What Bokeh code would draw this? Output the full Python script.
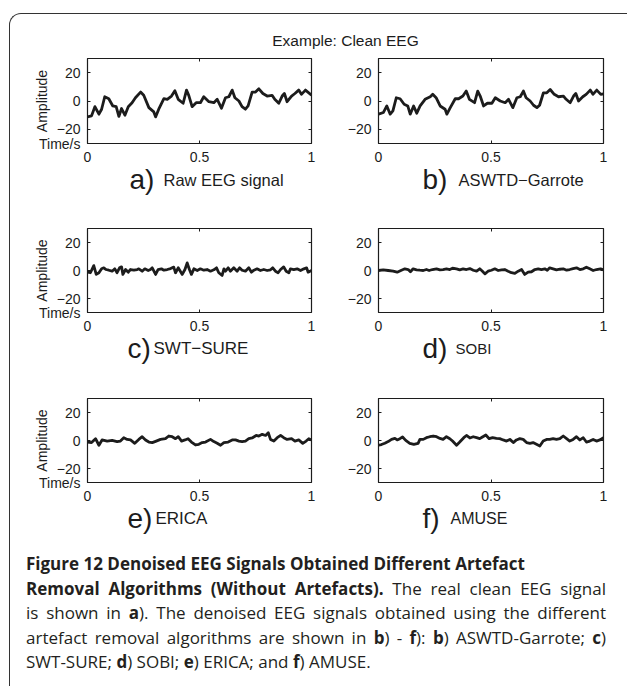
from bokeh.plotting import figure
from bokeh.models import Range1d, LinearAxis, FixedTicker, Label, Div
from bokeh.layouts import column, row
from bokeh.embed import file_html
from bokeh.resources import INLINE

FONT = "Liberation Sans"
INK = "#1c1c1c"

title_text = "Example: Clean EEG"
x_ticks = [0, 0.5, 1]
y_ticks = [-20, 0, 20]
y_tick_labels = {-20: "\u221220", 0: "0", 20: "20"}
y_label = "Amplitude"
x_label = "Time/s"
panel_letters = ["a)", "b)", "c)", "d)", "e)", "f)"]
panel_names = ["Raw EEG signal", "ASWTD\u2212Garrote", "SWT\u2212SURE", "SOBI", "ERICA", "AMUSE"]

# a) Raw EEG signal
t_a = [0, .018, .033, .051, .063, .077, .095, .113, .128, .140, .152, .167, .182, .199, .214, .237,
       .251, .274, .296, .304, .318, .341, .356, .375, .390, .405, .427, .442, .452, .467, .485, .504,
       .519, .542, .564, .579, .598, .616, .631, .646, .658, .676, .690, .705, .717, .735, .750, .765,
       .783, .802, .824, .836, .854, .869, .879, .891, .911, .926, .943, .955, .973, 1.0]
v_a = [-11.2, -10.5, -4.0, -9.3, -5.8, 3.0, 1.6, -3.5, -4.0, -10.9, -5.3, -10.0, -4.0, -1.2, 2.3, 6.3,
       4.0, -4.7, -7.7, -11.2, -5.8, 1.6, 1.2, 3.5, 7.2, 1.2, -1.6, 7.7, 4.0, -4.0, -1.2, -1.2,
       3.0, -0.5, -1.2, 1.2, -5.1, 2.3, 3.0, 7.7, 2.3, 0, -4.0, -5.8, -3.5, 6.3, 6.3, 8.6,
       5.3, 3.5, 4.0, 1.2, -1.6, 3.5, 5.3, -0.5, 3.5, 5.3, 7.7, 4.7, 7.7, 4.2]

# b) ASWTD-Garrote
t_b = [0, .022, .037, .052, .064, .079, .096, .114, .130, .141, .156, .170, .185, .207, .230, .241,
       .256, .274, .296, .304, .319, .341, .356, .375, .390, .404, .427, .441, .452, .467, .484, .504,
       .519, .541, .563, .578, .597, .615, .630, .644, .656, .674, .689, .704, .716, .733, .748, .763,
       .781, .800, .822, .834, .852, .867, .877, .889, .908, .923, .941, .953, .970, .988, 1.0]
v_b = [-9.3, -8.1, -3.5, -9.3, -7.0, 2.3, 1.6, -2.3, -3.5, -9.3, -3.5, -8.6, -3.5, 1.2, 3.0, 4.7,
       2.3, -3.5, -5.8, -9.3, -4.7, 1.6, 1.6, 3.5, 7.0, 1.2, -1.2, 7.0, 3.5, -3.5, -1.6, -1.6,
       2.3, 0, -1.2, 1.2, -4.7, 2.3, 3.0, 7.0, 2.3, 0, -3.0, -4.7, -3.0, 5.8, 5.8, 8.1,
       4.7, 3.0, 3.5, 1.2, -1.2, 3.5, 5.3, 0, 3.0, 4.7, 7.7, 4.7, 7.7, 4.7, 5.1]

# c) SWT-SURE
t_c = [0, .013, .028, .039, .051, .063, .073, .083, .095, .110, .122, .132, .143, .152, .158, .170,
       .182, .192, .207, .222, .229, .244, .256, .271, .281, .289, .304, .315, .330, .341, .356, .371,
       .385, .393, .405, .423, .435, .445, .455, .464, .475, .490, .504, .519, .534, .549, .564, .576,
       .586, .601, .609, .616, .628, .638, .653, .668, .679, .690, .705, .720, .732, .743, .757, .772,
       .787, .802, .817, .827, .839, .851, .862, .876, .887, .899, .906, .921, .936, .951, .966, .978,
       .985, 1.0]
v_c = [-1.2, -1.6, 3.5, -2.8, -1.6, 1.2, 1.9, 0.7, 0.2, -0.5, 1.2, -1.6, 1.9, 2.6, -2.8, 0.7,
       -1.2, 0.7, 0.2, 0.7, 1.2, -0.5, 1.2, 0, 0.7, 1.9, -2.8, 0.7, 1.2, 0.2, 0.7, 1.4,
       2.4, -1.6, 1.9, -2.8, 0.7, 5.4, 0.7, -2.8, 1.2, 0, 1.2, 0.2, 0.7, -0.5, 0.5, 1.9,
       -1.6, -3.5, 1.2, -0.5, 1.9, -0.5, 1.9, -0.5, 1.9, 0.2, -0.5, 1.9, -1.2, 0.2, 1.2, 0,
       0.7, 0, 0.5, 1.9, -0.5, -1.6, 0.7, 2.6, -0.5, -1.6, 1.2, 0.7, 1.2, 0, 1.2, 1.9,
       -1.2, 0]

# d) SOBI
t_d = [0, .021, .043, .065, .083, .102, .117, .132, .142, .154, .169, .184, .199, .213, .225, .240,
       .258, .273, .287, .302, .317, .329, .347, .361, .376, .391, .406, .421, .436, .450, .462, .473,
       .487, .502, .517, .532, .547, .561, .576, .591, .606, .621, .636, .650, .665, .680, .695, .710,
       .724, .739, .750, .761, .776, .791, .806, .821, .836, .850, .865, .880, .895, .910, .924, .939,
       .954, .969, .987, 1.0]
v_d = [0, .5, 0, -.5, -1.2, .2, 1.2, .7, -.9, 1.2, .5, .2, 0, .7, 0, .7,
       1.2, .5, .7, 1.2, .7, 1.6, 1.2, .5, 1.2, .7, 1.4, .2, -.5, 1.2, -.5, -2.4,
       -.5, .2, 1.2, 0, .5, .7, -.5, -1.6, -2.1, -.5, .7, -2.8, -1.2, -.9, .7, 1.2,
       .7, 1.2, .2, 1.9, 1.2, .5, .9, 1.2, .2, .7, 1.4, 1.9, .7, 1.2, 2.4, 1.2,
       0, .7, 1.2, .5]

# e) ERICA
t_e = [0, .018, .036, .051, .065, .088, .110, .132, .147, .162, .177, .192, .211, .229, .244, .259,
       .274, .289, .304, .326, .348, .363, .378, .393, .405, .420, .435, .449, .464, .482, .497, .512,
       .527, .549, .564, .579, .594, .609, .628, .646, .661, .676, .690, .705, .720, .735, .753, .765,
       .780, .795, .807, .817, .832, .847, .862, .876, .891, .911, .926, .943, .961, .976, .988, 1.0]
v_e = [-1.1, -1.5, 1.3, -3.4, .4, -.4, .1, -.8, -.4, 2.0, .8, .4, -2.0, .8, 2.7, .4,
       -1.1, -1.5, -.6, .8, 1.3, 3.2, 2.7, 1.3, 2.7, -.4, .4, 1.3, -1.1, -3.2, -2.7, -1.5,
       -1.1, .8, -.8, -2.0, -3.4, -1.5, -1.1, .4, .4, -.4, -.8, -.4, 1.3, 1.8, 3.6, 3.2,
       4.4, 3.6, 5.5, .8, -.4, 2.0, 3.6, 2.0, .8, 1.3, -.4, .4, -2.0, -.4, 1.3, .4]

# f) AMUSE
t_f = [0, .013, .028, .043, .058, .073, .083, .095, .107, .121, .139, .157, .176, .184, .199, .213,
       .228, .243, .258, .273, .287, .302, .317, .329, .347, .361, .379, .391, .406, .421, .436, .450,
       .462, .477, .492, .507, .524, .539, .554, .569, .584, .599, .613, .628, .643, .658, .673, .687,
       .702, .717, .732, .747, .761, .776, .791, .806, .821, .836, .850, .865, .880, .895, .910, .924,
       .939, .954, .969, .984, 1.0]
v_f = [-3.4, -2.9, -2.0, -.8, .8, 1.5, .4, 1.3, 2.5, .1, -2.0, -2.7, -2.0, .8, .8, 2.0,
       2.7, 3.2, 2.7, 1.5, .8, 2.7, 1.3, -.4, -3.4, -1.1, 2.0, 3.6, 1.8, 2.7, 2.0, 1.3,
       2.5, 3.9, 1.3, 2.0, 1.5, 1.3, .4, -.4, .8, -1.5, .4, 1.3, .8, -1.5, -2.0, -1.5,
       -2.7, -3.9, -.4, .8, .8, 1.3, .8, 1.3, 3.2, 1.3, -.4, .8, 2.7, .4, 2.0, -1.1,
       -.4, .8, -.4, .4, 2.0]

series_t = [t_a, t_b, t_c, t_d, t_e, t_f]
series_v = [v_a, v_b, v_c, v_d, v_e, v_f]

# layout (pixels)
LEFT_W, RIGHT_W = 310, 307
name_sizes = ["16.5px", "16.5px", "17px", "15px", "17px", "16px"]
letter_x = [119, 102, 117, 102, 117, 102]
name_x = [153, 138, 143, 135, 145, 130]


def style_axis(ax, ticks, show_labels):
    ax.ticker = FixedTicker(ticks=ticks)
    ax.major_tick_in = 3
    ax.major_tick_out = 0
    ax.minor_tick_in = 0
    ax.minor_tick_out = 0
    ax.major_tick_line_color = INK
    ax.major_tick_line_width = 1
    ax.axis_line_color = None
    ax.major_label_text_font = FONT
    ax.major_label_text_font_size = "14px"
    ax.major_label_text_color = INK
    if not show_labels:
        ax.major_label_overrides = {tk: "" for tk in ticks}
        ax.major_label_standoff = 0


def panel(i):
    col = i % 2
    rw = i // 2
    left = col == 0
    p = figure(width=LEFT_W if left else RIGHT_W, height=110 if rw == 0 else 133,
               x_range=Range1d(0, 1), y_range=Range1d(-30, 30),
               output_backend="svg", toolbar_location=None,
               min_border_left=77 if left else 58,
               min_border_right=9 if left else 24,
               min_border_top=4 if rw == 0 else 28,
               min_border_bottom=20)
    p.grid.visible = False
    p.border_fill_color = None
    p.outline_line_color = INK
    p.outline_line_width = 1.2
    p.line(series_t[i], series_v[i], line_color=INK, line_width=2.8, line_join="round")

    xa = p.xaxis[0]
    style_axis(xa, x_ticks, True)
    xa.major_label_standoff = 8
    ya = p.yaxis[0]
    ya.major_label_standoff = 7
    if left:
        # the time caption sits at the lower-left corner, drawn as the label of the bottom edge
        style_axis(ya, [-30] + y_ticks, True)
        ya.major_label_overrides = {**y_tick_labels, -30: x_label}
        ya.axis_label = y_label
        ya.axis_label_text_font = FONT
        ya.axis_label_text_font_size = "14px"
        ya.axis_label_text_font_style = "normal"
        ya.axis_label_text_color = INK
        ya.axis_label_standoff = -14
    else:
        style_axis(ya, y_ticks, True)
        ya.major_label_overrides = y_tick_labels

    top = LinearAxis()
    style_axis(top, x_ticks, False)
    p.add_layout(top, "above")
    right = LinearAxis()
    style_axis(right, y_ticks, False)
    p.add_layout(right, "right")
    return p


def text_strip(width, height):
    f = figure(width=width, height=height, x_range=Range1d(0, width), y_range=Range1d(0, height),
               output_backend="svg", toolbar_location=None,
               x_axis_location=None, y_axis_location=None, min_border=0)
    f.grid.visible = False
    f.outline_line_color = None
    f.border_fill_color = None
    f.background_fill_color = None
    return f


def subtitle(i):
    left = i % 2 == 0
    h = 36 if i < 2 else 37
    base = 21 if i < 2 else 22
    s = text_strip(LEFT_W if left else RIGHT_W, h)
    s.add_layout(Label(x=letter_x[i], y=base, text=panel_letters[i], text_align="left",
                       text_baseline="alphabetic", text_font=FONT, text_font_size="28px",
                       text_color=INK))
    s.add_layout(Label(x=name_x[i], y=base, text=panel_names[i], text_align="left",
                       text_baseline="alphabetic", text_font=FONT, text_font_size=name_sizes[i],
                       text_color=INK))
    return s


panels = [panel(i) for i in range(6)]
subs = [subtitle(i) for i in range(6)]

tp = text_strip(LEFT_W + RIGHT_W, 40)
tp.add_layout(Label(x=335, y=14.5, text=title_text, text_align="center", text_baseline="alphabetic",
                    text_font=FONT, text_font_size="15.5px", text_color=INK))

line_style = "white-space:nowrap;"
just = "text-align:justify;text-align-last:justify;"
caption_html = (
    '<div style="padding:7px 0 0 11px;width:591px;font-family:\'Open Sans\';font-size:17px;'
    'line-height:24.5px;color:#231f20;">'
    '<div style="' + line_style + '"><b>Figure 12 Denoised EEG Signals Obtained Different Artefact</b></div>'
    '<div style="' + line_style + just + '"><b>Removal Algorithms (Without Artefacts).</b> The real clean EEG signal</div>'
    '<div style="' + line_style + just + '">is shown in <b>a</b>). The denoised EEG signals obtained using the different</div>'
    '<div style="' + line_style + just + '">artefact removal algorithms are shown in <b>b</b>) - <b>f</b>): <b>b</b>) ASWTD-Garrote; <b>c</b>)</div>'
    '<div style="' + line_style + '">SWT-SURE; <b>d</b>) SOBI; <b>e</b>) ERICA; and <b>f</b>) AMUSE.</div>'
    '</div>'
)
cap = Div(text=caption_html, width=LEFT_W + RIGHT_W, height=144)

layout = column(tp,
                row(panels[0], panels[1]), row(subs[0], subs[1]),
                row(panels[2], panels[3]), row(subs[2], subs[3]),
                row(panels[4], panels[5]), row(subs[4], subs[5]),
                cap,
                margin=(13, 0, 0, 9),
                styles={"border-top": "1px solid #333", "border-left": "1px solid #333",
                        "border-top-left-radius": "12px"})

open("out.html", "w").write(file_html(layout, INLINE))
